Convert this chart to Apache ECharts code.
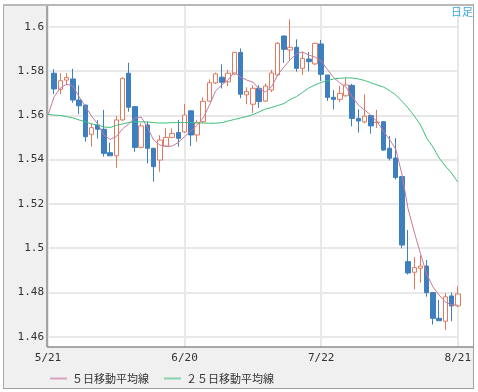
<!DOCTYPE html>
<html><head><meta charset="utf-8">
<script src="https://cdn.jsdelivr.net/npm/echarts@6/dist/echarts.min.js"></script>
<style>html,body{margin:0;padding:0;background:#fff;overflow:hidden}#c{width:474px;height:392px}</style>
</head><body><div id="c"></div>
<script>
const dates = ['5/21','5/22','5/23','5/24','5/27','5/28','5/29','5/30','5/31',
'6/3','6/4','6/5','6/6','6/7','6/10','6/11','6/12','6/13','6/14','6/17','6/18','6/19','6/20',
'6/21','6/24','6/25','6/26','6/27','6/28','7/1','7/2','7/3','7/4','7/5','7/8','7/9','7/10','7/11','7/12','7/15','7/16','7/17','7/18','7/19','7/22',
'7/23','7/24','7/25','7/26','7/29','7/30','7/31','8/1','8/2','8/5','8/6','8/7','8/8','8/9','8/12','8/13','8/14','8/15','8/16','8/19','8/20','8/21'];
const xTickDates = ['5/21','6/20','7/22','8/21'];
const yTicks = [1.46,1.48,1.5,1.52,1.54,1.56,1.58,1.6];
const opens = [null,1.5790,1.5717,1.5759,1.5764,1.5669,1.5646,1.5514,1.5556,1.5537,1.5431,1.5417,1.5579,1.5790,1.5639,1.5455,1.5556,1.5451,1.5398,1.5461,1.5500,1.5522,1.5525,1.5620,1.5511,1.5571,1.5664,1.5746,1.5772,1.5751,1.5786,1.5884,1.5692,1.5650,1.5722,1.5664,1.5714,1.5782,1.5958,1.5895,1.5907,1.5812,1.5854,1.5832,1.5922,1.5782,1.5681,1.5672,1.5688,1.5735,1.5586,1.5570,1.5599,1.5567,1.5571,1.5451,1.5407,1.5323,1.4939,1.4891,1.4909,1.4919,1.4799,1.4683,1.4670,1.4784,1.4739];
const closes = [null,1.5719,1.5756,1.5770,1.5669,1.5643,1.5503,1.5544,1.5537,1.5428,1.5417,1.5579,1.5767,1.5636,1.5455,1.5552,1.5451,1.5368,1.5488,1.5500,1.5518,1.5496,1.5601,1.5511,1.5566,1.5663,1.5747,1.5787,1.5749,1.5790,1.5884,1.5695,1.5707,1.5722,1.5662,1.5732,1.5791,1.5925,1.5898,1.5907,1.5812,1.5857,1.5842,1.5925,1.5785,1.5681,1.5672,1.5699,1.5737,1.5586,1.5574,1.5596,1.5552,1.5569,1.5443,1.5406,1.5319,1.5014,1.4888,1.4912,1.4919,1.4799,1.4683,1.4672,1.4780,1.4739,1.4793];
const lows = [null,1.5695,1.5695,1.5737,1.5657,1.5606,1.5481,1.5458,1.5495,1.5413,1.5417,1.5363,1.5576,1.5616,1.5435,1.5451,1.5383,1.5300,1.5345,1.5458,1.5496,1.5458,1.5520,1.5461,1.5480,1.5564,1.5661,1.5741,1.5721,1.5732,1.5782,1.5677,1.5650,1.5610,1.5633,1.5660,1.5705,1.5777,1.5837,1.5850,1.5797,1.5782,1.5798,1.5827,1.5755,1.5665,1.5626,1.5660,1.5684,1.5550,1.5522,1.5564,1.5517,1.5543,1.5440,1.5396,1.5310,1.4999,1.4881,1.4814,1.4844,1.4781,1.4655,1.4672,1.4630,1.4670,1.4734];
const highs = [null,1.5808,1.5790,1.5790,1.5810,1.5735,1.5648,1.5564,1.5578,1.5624,1.5476,1.5597,1.5771,1.5837,1.5642,1.5564,1.5571,1.5453,1.5510,1.5541,1.5541,1.5579,1.5651,1.5622,1.5579,1.5681,1.5762,1.5793,1.5830,1.5805,1.5887,1.5902,1.5726,1.5736,1.5736,1.5744,1.5805,1.5931,1.5960,1.6033,1.5943,1.5886,1.5886,1.5928,1.5940,1.5782,1.5714,1.5733,1.5767,1.5742,1.5627,1.5695,1.5599,1.5624,1.5571,1.5507,1.5497,1.5323,1.5082,1.4959,1.4967,1.4946,1.4802,1.4766,1.4796,1.4799,1.4827];
const ma5 = [1.5601,1.5684,1.5723,1.5741,1.5732,1.5684,1.5642,1.5597,1.5561,1.5511,1.5491,1.5504,1.5538,1.5561,1.5588,1.5592,1.5547,1.5488,1.5466,1.5459,1.5461,1.5477,1.5504,1.5529,1.5554,1.5588,1.5646,1.5710,1.5737,1.5759,1.5795,1.5773,1.5759,1.5750,1.5719,1.5705,1.5728,1.5782,1.5818,1.5850,1.5877,1.5886,1.5872,1.5863,1.5845,1.5807,1.5771,1.5746,1.5728,1.5683,1.5646,1.5624,1.5601,1.5572,1.5529,1.5491,1.5448,1.5335,1.5177,1.5073,1.4974,1.4883,1.4825,1.4788,1.4757,1.4743,1.4743];
const ma25 = [1.5604,1.5601,1.5599,1.5594,1.5588,1.5579,1.5571,1.5561,1.5556,1.5547,1.5545,1.5554,1.5561,1.5567,1.5571,1.5570,1.5570,1.5567,1.5565,1.5565,1.5567,1.5567,1.5567,1.5567,1.5566,1.5565,1.5564,1.5564,1.5567,1.5574,1.5581,1.5588,1.5594,1.5603,1.5615,1.5628,1.5635,1.5644,1.5653,1.5671,1.5684,1.5703,1.5723,1.5737,1.5748,1.5756,1.5764,1.5767,1.5769,1.5768,1.5764,1.5757,1.5747,1.5737,1.5728,1.5712,1.5692,1.5664,1.5633,1.5597,1.5556,1.5497,1.5457,1.5407,1.5371,1.5339,1.5299];
const seriesNames = ['５日移動平均線','２５日移動平均線'];
const periodLabel = '日足';

const candleData = dates.map((d, i) => opens[i] == null ? ['-','-','-','-'] : [opens[i], closes[i], lows[i], highs[i]]);

const chart = echarts.init(document.getElementById('c'), null, {renderer: 'canvas'});
const option = {
  backgroundColor: '#ffffff',
  animation: false,
  graphic: [
    {type:'rect', z:-100, shape:{x:3, y:4, width:471, height:384}, style:{fill:'#f0f0f0'}},
    {type:'rect', z:-99, shape:{x:47, y:6, width:426, height:341}, style:{fill:'#ffffff'}},
    {type:'line', z:100, shape:{x1:3.5, y1:4, x2:3.5, y2:388}, style:{stroke:'#a8a8a8', lineWidth:1}},
    {type:'line', z:100, shape:{x1:3, y1:5, x2:474, y2:5}, style:{stroke:'#b8b8b8', lineWidth:2}},
    {type:'line', z:100, shape:{x1:3, y1:388.5, x2:474, y2:388.5}, style:{stroke:'#a0a0a0', lineWidth:1}},
    {type:'line', z:100, shape:{x1:473.5, y1:4, x2:473.5, y2:388}, style:{stroke:'#a0a0a0', lineWidth:1}},
    {type:'line', z:100, shape:{x1:47, y1:6, x2:47, y2:347}, style:{stroke:'#8c8c8c', lineWidth:1.5}},
    {type:'line', z:100, shape:{x1:47, y1:347, x2:473, y2:347}, style:{stroke:'#8c8c8c', lineWidth:1.5}},
    {type:'text', z:100, x:473, y:12, style:{text:periodLabel, fill:'#3fa9e0', font:'11px "Noto Sans CJK JP"', textAlign:'right', textVerticalAlign:'middle'}}
  ],
  grid: {left:48, right:4.6, top:6, bottom:45, containLabel:false},
  legend: {
    left: 45, top: 368, itemWidth: 17, itemHeight: 2, itemGap: 15, selectedMode: false,
    textStyle: {fontSize: 11, fontFamily: '"Noto Sans CJK JP"', color: '#333'},
    data: [
      {name: seriesNames[0], icon: 'rect', itemStyle: {color: '#d9a3bd'}},
      {name: seriesNames[1], icon: 'rect', itemStyle: {color: '#86d3ae'}}
    ]
  },
  xAxis: {
    type: 'category', data: dates, boundaryGap: false,
    axisLine: {show: false}, axisTick: {show: false},
    axisLabel: {interval: (i, v) => xTickDates.includes(v), margin: 6, fontFamily: '"DejaVu Sans Mono"', fontSize: 11, color: '#333'},
    splitLine: {show: true, interval: (i, v) => xTickDates.includes(v), lineStyle: {color: '#e8e8e8', width: 2}}
  },
  yAxis: {
    type: 'value', min: 1.45535, max: 1.60935,
    axisLine: {show: false},
    axisTick: {show: false, customValues: yTicks},
    axisLabel: {customValues: yTicks, margin: 4, fontFamily: '"DejaVu Sans Mono"', fontSize: 11, color: '#333',
      formatter: v => String(Math.round(v * 100) / 100)},
    splitLine: {show: true, lineStyle: {color: '#e8e8e8', width: 2}}
  },
  series: [
    {type: 'candlestick', data: candleData, barWidth: 5, clip: false,
     itemStyle: {color: '#ffffff', color0: '#3d7fbf', borderColor: '#e07a5f', borderColor0: '#3d7fbf', borderWidth: 1}},
    {name: seriesNames[0], type: 'line', data: ma5, showSymbol: false, symbol: 'none',
     lineStyle: {color: '#c97a9e', width: 1}, itemStyle: {color: '#c97a9e'}},
    {name: seriesNames[1], type: 'line', data: ma25, showSymbol: false, symbol: 'none',
     lineStyle: {color: '#40bf7c', width: 1}, itemStyle: {color: '#40bf7c'}}
  ]
};
chart.setOption(option);
</script></body></html>
